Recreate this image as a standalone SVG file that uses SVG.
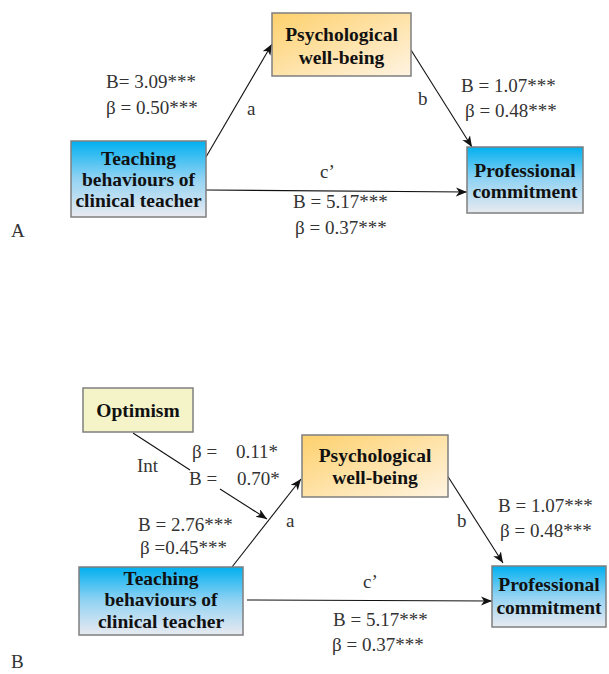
<svg xmlns="http://www.w3.org/2000/svg" width="609" height="674" viewBox="0 0 609 674">
<style>
.box{stroke:#7f7f7f;stroke-width:1.5}
.bt{font-family:"Liberation Serif",serif;font-weight:bold;font-size:19.5px;fill:#111;text-anchor:middle}
.lb{font-family:"Liberation Serif",serif;font-size:19px;fill:#333}
.ln{stroke:#111;stroke-width:1.1;fill:none}
</style>
<defs>
<linearGradient id="blue" x1="0" y1="0" x2="0" y2="1">
<stop offset="0" stop-color="#00b0f0"/>
<stop offset="0.5" stop-color="#93d3f3"/>
<stop offset="1" stop-color="#e9eaf0"/>
</linearGradient>
<linearGradient id="orange" x1="0" y1="0" x2="1" y2="1">
<stop offset="0" stop-color="#fdd06c"/>
<stop offset="1" stop-color="#fff4e2"/>
</linearGradient>
<marker id="ah" markerUnits="userSpaceOnUse" markerWidth="12" markerHeight="10" refX="11" refY="4.5" orient="auto">
<path d="M0,0 L11,4.5 L0,9 L3,4.5 z" fill="#111"/>
</marker>
</defs>

<g id="connectors">
<line class="ln" x1="206" y1="157" x2="272" y2="44" marker-end="url(#ah)"/>
<line class="ln" x1="411" y1="50" x2="472" y2="147" marker-end="url(#ah)"/>
<line class="ln" x1="206" y1="190" x2="467" y2="192" marker-end="url(#ah)"/>
<line class="ln" x1="133" y1="433" x2="190" y2="470"/>
<line class="ln" x1="220" y1="489" x2="267" y2="519" marker-end="url(#ah)"/>
<line class="ln" x1="232" y1="567" x2="301" y2="479" marker-end="url(#ah)"/>
<line class="ln" x1="447" y1="475" x2="503" y2="563" marker-end="url(#ah)"/>
<line class="ln" x1="247" y1="600" x2="492" y2="601" marker-end="url(#ah)"/>
</g>

<g id="A-teaching">
<rect class="box" x="71" y="141" width="135" height="76" fill="url(#blue)"/>
<text class="bt" x="138.5" y="165">Teaching</text>
<text class="bt" x="138.5" y="186">behaviours of</text>
<text class="bt" x="138.5" y="207">clinical teacher</text>
</g>
<g id="A-psych">
<rect class="box" x="272" y="13" width="139" height="63" fill="url(#orange)"/>
<text class="bt" x="341.5" y="41">Psychological</text>
<text class="bt" x="341.5" y="64">well-being</text>
</g>
<g id="A-prof">
<rect class="box" x="467" y="147" width="116" height="66" fill="url(#blue)"/>
<text class="bt" x="525" y="177">Professional</text>
<text class="bt" x="525" y="198">commitment</text>
</g>

<g id="B-optimism">
<rect class="box" x="83" y="388" width="110" height="44" fill="#f4f4c8"/>
<text class="bt" x="138" y="417">Optimism</text>
</g>
<g id="B-psych">
<rect class="box" x="302" y="435" width="146" height="62" fill="url(#orange)"/>
<text class="bt" x="375" y="462">Psychological</text>
<text class="bt" x="375" y="484">well-being</text>
</g>
<g id="B-teaching">
<rect class="box" x="79" y="567" width="164" height="68" fill="url(#blue)"/>
<text class="bt" x="161" y="585">Teaching</text>
<text class="bt" x="161" y="606">behaviours of</text>
<text class="bt" x="161" y="628">clinical teacher</text>
</g>
<g id="B-prof">
<rect class="box" x="492" y="566" width="114" height="61" fill="url(#blue)"/>
<text class="bt" x="549" y="591">Professional</text>
<text class="bt" x="549" y="614">commitment</text>
</g>

<g id="labels">
<text class="lb" x="106" y="88">B= 3.09***</text>
<text class="lb" x="106" y="114">β = 0.50***</text>
<text class="lb" x="247" y="115">a</text>
<text class="lb" x="418" y="105">b</text>
<text class="lb" x="461" y="92">B = 1.07***</text>
<text class="lb" x="465" y="117">β = 0.48***</text>
<text class="lb" x="320" y="178">c’</text>
<text class="lb" x="293" y="208">B = 5.17***</text>
<text class="lb" x="295" y="234">β = 0.37***</text>
<text class="lb" x="11" y="237">A</text>

<text class="lb" x="192" y="458">β =</text>
<text class="lb" x="236" y="458">0.11*</text>
<text class="lb" x="137" y="472">Int</text>
<text class="lb" x="189" y="485">B =</text>
<text class="lb" x="237" y="485">0.70*</text>
<text class="lb" x="138" y="531">B = 2.76***</text>
<text class="lb" x="140" y="554">β =0.45***</text>
<text class="lb" x="286" y="527">a</text>
<text class="lb" x="457" y="527">b</text>
<text class="lb" x="498" y="512">B = 1.07***</text>
<text class="lb" x="500" y="537">β = 0.48***</text>
<text class="lb" x="363" y="588">c’</text>
<text class="lb" x="333" y="626">B = 5.17***</text>
<text class="lb" x="332" y="651">β = 0.37***</text>
<text class="lb" x="11" y="668">B</text>
</g>
</svg>
